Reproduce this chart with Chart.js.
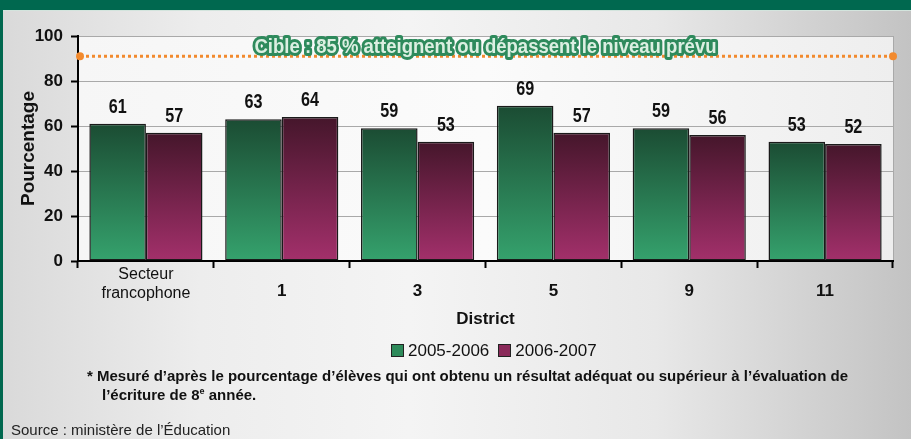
<!DOCTYPE html>
<html>
<head>
<meta charset="utf-8">
<script src="https://cdn.jsdelivr.net/npm/chart.js@4.4.1/dist/chart.umd.min.js"></script>
<style>
html, body { margin: 0; padding: 0; }
body {
  width: 911px; height: 439px; overflow: hidden; position: relative;
  font-family: "Liberation Sans", Arial, sans-serif;
  background: linear-gradient(90deg, #d9d9d9 0%, #ededed 22%, #f4f4f4 45%, #e8e8e8 72%, #c3c3c3 100%);
}
#band { position: absolute; left: 0; top: 0; width: 911px; height: 10px; background: #00684f; border-bottom: 1px solid #d3e4dd; }
#edge { position: absolute; left: 0; top: 0; width: 3px; height: 439px; background: #00684f; }
#wrap { position: absolute; left: 0; top: 0; width: 911px; height: 439px; }
#legend { position: absolute; left: 391px; top: 341px; font-size: 17px; color: #111; white-space: nowrap; line-height: 20px; }
#legend span.box { display: inline-block; width: 11px; height: 11px; border: 1px solid #222; vertical-align: -1px; margin-right: 4px; }
#legend span.item { margin-right: 9px; }
.note { position: absolute; font-weight: bold; font-size: 15px; color: #111; white-space: nowrap; }
#src { position: absolute; left: 11px; top: 421px; font-size: 15px; color: #222; white-space: nowrap; }
</style>
</head>
<body>
<div id="wrap"><canvas id="chart" width="911" height="439"></canvas></div>
<div id="band"></div>
<div id="edge"></div>
<div id="legend"></div>
<div class="note" style="left:87px;top:367px">* Mesuré d’après le pourcentage d’élèves qui ont obtenu un résultat adéquat ou supérieur à l’évaluation de</div>
<div class="note" style="left:102px;top:386px">l’écriture de 8<span style="font-size:9px;position:relative;top:-6px">e</span> année.</div>
<div id="src">Source : ministère de l’Éducation</div>

<script>
// data
const districts = [['Secteur', 'francophone'], ['', '1'], ['', '3'], ['', '5'], ['', '9'], ['', '11']];
const years = ['2005-2006', '2006-2007'];
const scores0506 = [61, 63, 59, 69, 59, 53];
const scores0607 = [57, 64, 53, 57, 56, 52];
const yTicks = [0, 20, 40, 60, 80, 100];
const targetLevel = 91; // where the dotted target line sits on the scale
const targetText = 'Cible : 85 % atteignent ou dépassent le niveau prévu';
const legendColors = ['#2d8a5a', '#8a2a5a'];

const FONT = '"Liberation Sans", Arial, sans-serif';
Chart.defaults.font.family = FONT;

function barFill(top, bottom) {
  return function (c) {
    const chart = c.chart;
    if (!chart.chartArea || !c.parsed) return bottom;
    const y = chart.scales.y;
    const g = chart.ctx.createLinearGradient(0, y.getPixelForValue(c.parsed.y), 0, y.getPixelForValue(0));
    g.addColorStop(0, top);
    g.addColorStop(1, bottom);
    return g;
  };
}

const plotBack = {
  id: 'plotBack',
  beforeDraw(chart) {
    const a = chart.chartArea, c = chart.ctx;
    c.save();
    const g = c.createLinearGradient(a.left, 0, a.right, 0);
    g.addColorStop(0, '#f6f6f6');
    g.addColorStop(0.5, '#fbfbfb');
    g.addColorStop(1, '#eeeeee');
    c.fillStyle = g;
    c.fillRect(a.left, a.top, a.right - a.left, a.bottom - a.top);
    c.strokeStyle = '#a9a9a9';
    c.lineWidth = 1;
    c.beginPath();
    c.moveTo(a.right + 0.5, a.top);
    c.lineTo(a.right + 0.5, a.bottom);
    c.stroke();
    c.restore();
  }
};

const valueLabels = {
  id: 'valueLabels',
  afterDatasetsDraw(chart) {
    const c = chart.ctx;
    c.save();
    c.font = 'bold 21px ' + FONT;
    c.fillStyle = '#111';
    c.textAlign = 'center';
    [0, 1].forEach(i => {
      chart.getDatasetMeta(i).data.forEach((bar, j) => {
        c.save();
        c.translate(bar.x, bar.y - 11);
        c.scale(0.77, 1);
        c.fillText(chart.data.datasets[i].data[j], 0, 0);
        c.restore();
      });
    });
    c.restore();
  }
};

// dotted target line across the plot, placed through the y scale
const targetLine = {
  id: 'targetLine',
  afterDatasetsDraw(chart) {
    const c = chart.ctx, a = chart.chartArea;
    const py = chart.scales.y.getPixelForValue(targetLevel);
    c.save();
    c.strokeStyle = '#f28a2e';
    c.fillStyle = '#f28a2e';
    c.lineWidth = 3;
    c.setLineDash([3, 3]);
    c.beginPath();
    c.moveTo(a.left + 2, py);
    c.lineTo(a.right, py);
    c.stroke();
    c.setLineDash([]);
    [a.left + 2, a.right].forEach(x => {
      c.beginPath();
      c.arc(x, py, 4, 0, Math.PI * 2);
      c.fill();
    });

    c.font = 'bold 20px ' + FONT;
    c.textAlign = 'center';
    const w = c.measureText(targetText).width;
    c.translate((a.left + a.right) / 2, py - 3.5);
    c.scale(462 / w, 1);
    c.lineJoin = 'round';
    c.lineWidth = 6;
    c.strokeStyle = '#2e8a5c';
    c.strokeText(targetText, 0, 0);
    c.fillStyle = '#dcefe2';
    c.fillText(targetText, 0, 0);
    c.restore();
  }
};

new Chart(document.getElementById('chart'), {
  type: 'bar',
  data: {
    labels: districts,
    datasets: [
      {
        label: years[0], data: scores0506,
        backgroundColor: barFill('#1b4c33', '#35a26d'),
        borderColor: '#1a1a1a', borderWidth: 1.5, borderSkipped: false,
        categoryPercentage: 0.833, barPercentage: 1.0
      },
      {
        label: years[1], data: scores0607,
        backgroundColor: barFill('#45162b', '#a3306b'),
        borderColor: '#1a1a1a', borderWidth: 1.5, borderSkipped: false,
        categoryPercentage: 0.833, barPercentage: 1.0
      }
    ]
  },
  options: {
    responsive: false,
    animation: false,
    layout: { padding: { left: 0, top: 36, right: 18, bottom: 109 } },
    plugins: {
      tooltip: { enabled: false },
      legend: { display: false }
    },
    scales: {
      x: {
        offset: true,
        grid: { display: true, drawOnChartArea: false, drawTicks: true, tickLength: 7, tickColor: '#000', tickWidth: 2, offset: true },
        border: { display: true, color: '#000', width: 2 },
        ticks: {
          color: '#111', padding: -3, maxRotation: 0, autoSkip: false,
          font: c => c.index === 0 ? { size: 16 } : { size: 17, weight: 'bold', lineHeight: 1.05 }
        },
        title: { display: true, text: 'District', color: '#111', font: { size: 17, weight: 'bold' }, padding: 0 },
        afterFit: s => { s.height = 69; }
      },
      y: {
        min: 0, max: 100,
        afterBuildTicks: s => { s.ticks = yTicks.map(v => ({ value: v })); },
        grid: { color: '#a9a9a9', lineWidth: 1, tickColor: '#000', tickLength: 7, tickWidth: 2 },
        border: { color: '#000', width: 2 },
        ticks: { color: '#111', padding: 8, font: { size: 17, weight: 'bold' } },
        title: { display: true, text: 'Pourcentage', color: '#111', font: { size: 19, weight: 'bold' }, padding: { top: 17, bottom: 0 } },
        afterFit: s => { s.width = 78; }
      }
    }
  },
  plugins: [plotBack, valueLabels, targetLine]
});

// legend below the axis title
document.getElementById('legend').innerHTML = years.map((t, i) =>
  '<span class="item"><span class="box" style="background:' + legendColors[i] + '"></span>' + t + '</span>'
).join('');
</script>
</body>
</html>
